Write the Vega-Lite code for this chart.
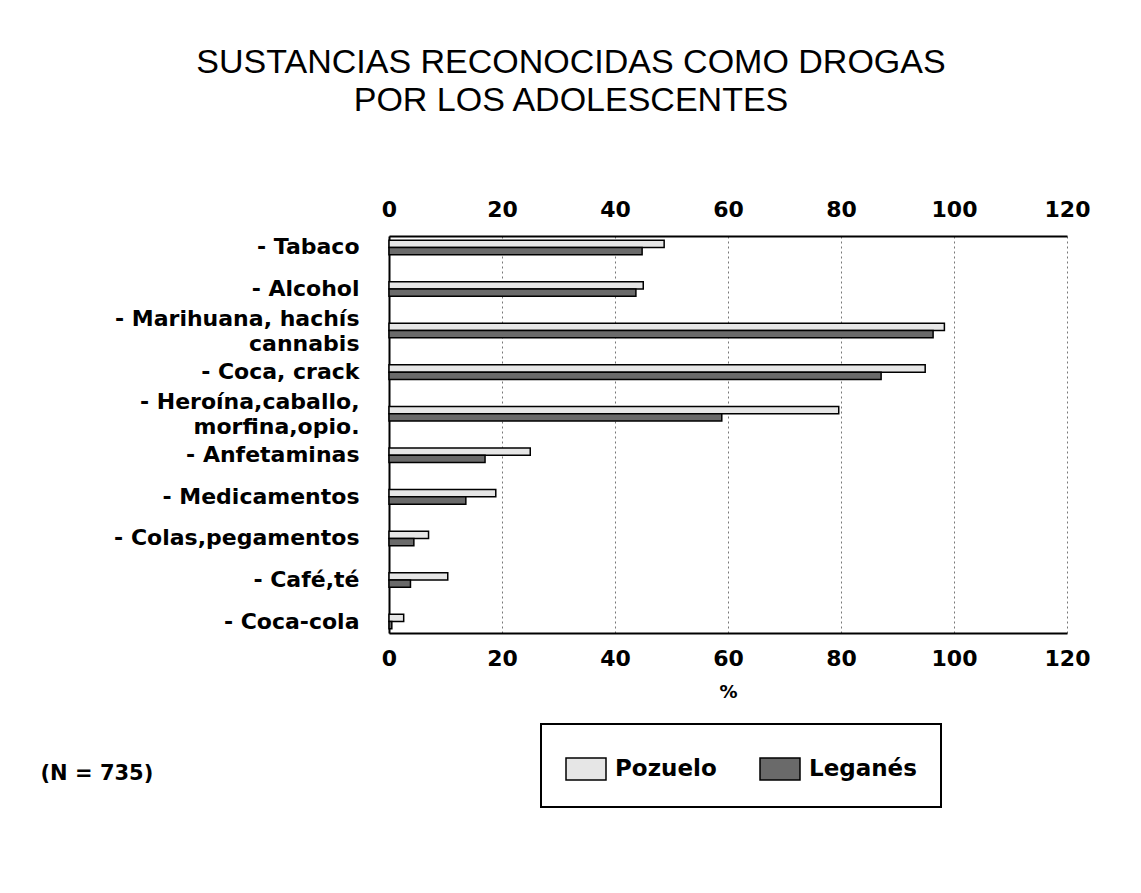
{
  "$schema": "https://vega.github.io/schema/vega-lite/v6.json",
  "autosize": {"type": "none"},
  "padding": {"left": 389, "top": 236, "right": 74, "bottom": 260},
  "width": 678,
  "height": 397,
  "background": "white",
  "title": {
    "text": ["SUSTANCIAS RECONOCIDAS COMO DROGAS", "POR LOS ADOLESCENTES"],
    "font": "Liberation Sans",
    "fontSize": 34,
    "fontWeight": "normal",
    "color": "black",
    "lineHeight": 38,
    "anchor": "middle",
    "frame": "group",
    "dx": -157,
    "offset": 80
  },
  "data": {
    "values": [
      {"sustancia": "Tabaco", "grupo": "Pozuelo", "pct": 48.7},
      {"sustancia": "Tabaco", "grupo": "Leganés", "pct": 44.8},
      {"sustancia": "Alcohol", "grupo": "Pozuelo", "pct": 45.0},
      {"sustancia": "Alcohol", "grupo": "Leganés", "pct": 43.7},
      {"sustancia": "Marihuana, hachís cannabis", "grupo": "Pozuelo", "pct": 98.3},
      {"sustancia": "Marihuana, hachís cannabis", "grupo": "Leganés", "pct": 96.3},
      {"sustancia": "Coca, crack", "grupo": "Pozuelo", "pct": 94.9},
      {"sustancia": "Coca, crack", "grupo": "Leganés", "pct": 87.1},
      {"sustancia": "Heroína,caballo, morfina,opio.", "grupo": "Pozuelo", "pct": 79.6},
      {"sustancia": "Heroína,caballo, morfina,opio.", "grupo": "Leganés", "pct": 58.9},
      {"sustancia": "Anfetaminas", "grupo": "Pozuelo", "pct": 25.0},
      {"sustancia": "Anfetaminas", "grupo": "Leganés", "pct": 17.0},
      {"sustancia": "Medicamentos", "grupo": "Pozuelo", "pct": 18.9},
      {"sustancia": "Medicamentos", "grupo": "Leganés", "pct": 13.6},
      {"sustancia": "Colas,pegamentos", "grupo": "Pozuelo", "pct": 7.0},
      {"sustancia": "Colas,pegamentos", "grupo": "Leganés", "pct": 4.4},
      {"sustancia": "Café,té", "grupo": "Pozuelo", "pct": 10.4},
      {"sustancia": "Café,té", "grupo": "Leganés", "pct": 3.8},
      {"sustancia": "Coca-cola", "grupo": "Pozuelo", "pct": 2.6},
      {"sustancia": "Coca-cola", "grupo": "Leganés", "pct": 0.5}
    ]
  },
  "layer": [
    {
      "mark": {"type": "bar", "stroke": "black", "strokeWidth": 1.5, "cornerRadius": 0},
      "encoding": {
        "y": {
          "field": "sustancia",
          "type": "nominal",
          "sort": null,
          "scale": {"paddingInner": 0.65, "paddingOuter": 0.1},
          "axis": {
            "title": "(N = 735)",
            "titleAngle": 0,
            "titleAlign": "left",
            "titleBaseline": "middle",
            "titleX": -349,
            "titleY": 537,
            "titleFont": "DejaVu Sans",
            "titleFontSize": 21,
            "titleFontWeight": "bold",
            "titleColor": "black",
            "labelFont": "DejaVu Sans",
            "labelFontSize": 22,
            "labelFontWeight": "bold",
            "labelColor": "black",
            "labelPadding": 30,
            "labelLimit": 400,
            "labelLineHeight": 25,
            "labelOffset": {
              "condition": {
                "test": "datum.value == 'Marihuana, hachís cannabis' || datum.value == 'Heroína,caballo, morfina,opio.'",
                "value": -12
              },
              "value": 0
            },
            "ticks": false,
            "domain": true,
            "domainColor": "black",
            "domainWidth": 2,
            "grid": false,
            "labelExpr": "datum.value == 'Marihuana, hachís cannabis' ? ['- Marihuana, hachís', 'cannabis'] : datum.value == 'Heroína,caballo, morfina,opio.' ? ['- Heroína,caballo,', 'morfina,opio.'] : '- ' + datum.value"
          }
        },
        "yOffset": {"field": "grupo", "type": "nominal", "sort": ["Pozuelo", "Leganés"]},
        "x": {
          "field": "pct",
          "type": "quantitative",
          "scale": {"domain": [0, 120], "nice": false},
          "axis": {
            "orient": "bottom",
            "values": [0, 20, 40, 60, 80, 100, 120],
            "title": "%",
            "titleFont": "DejaVu Sans",
            "titleFontSize": 18,
            "titleFontWeight": "bold",
            "titleColor": "black",
            "titlePadding": 14,
            "labelFont": "DejaVu Sans",
            "labelFontSize": 22,
            "labelFontWeight": "bold",
            "labelColor": "black",
            "labelPadding": 15,
            "labelFlush": false,
            "ticks": false,
            "domainColor": "black",
            "domainWidth": 2,
            "grid": true,
            "gridColor": "#777",
            "gridDash": [2, 3],
            "gridWidth": 1
          }
        },
        "color": {
          "field": "grupo",
          "type": "nominal",
          "scale": {"domain": ["Pozuelo", "Leganés"], "range": ["#e6e6e6", "#6a6a6a"]},
          "legend": {
            "orient": "none",
            "legendX": 152,
            "legendY": 488,
            "direction": "horizontal",
            "title": null,
            "fillColor": "white",
            "strokeColor": "black",
            "padding": 24,
            "columnPadding": 40,
            "labelFont": "DejaVu Sans",
            "labelFontSize": 23,
            "labelFontWeight": "bold",
            "labelColor": "black",
            "labelOffset": 8,
            "symbolType": "M-1,-0.55H1V0.55H-1Z",
            "symbolSize": 1600,
            "symbolStrokeColor": "black",
            "symbolStrokeWidth": 1.5,
            "symbolOpacity": 1
          }
        }
      }
    },
    {
      "mark": {"type": "bar", "opacity": 0},
      "encoding": {
        "y": {"field": "sustancia", "type": "nominal", "sort": null},
        "x": {
          "field": "pct",
          "type": "quantitative",
          "axis": {
            "orient": "top",
            "values": [0, 20, 40, 60, 80, 100, 120],
            "title": null,
            "labelFont": "DejaVu Sans",
            "labelFontSize": 22,
            "labelFontWeight": "bold",
            "labelColor": "black",
            "labelPadding": 15,
            "labelFlush": false,
            "ticks": false,
            "domainColor": "black",
            "domainWidth": 2,
            "grid": false
          }
        }
      }
    }
  ],
  "config": {
    "view": {"stroke": null},
    "legend": {"strokeWidth": 2}
  }
}
